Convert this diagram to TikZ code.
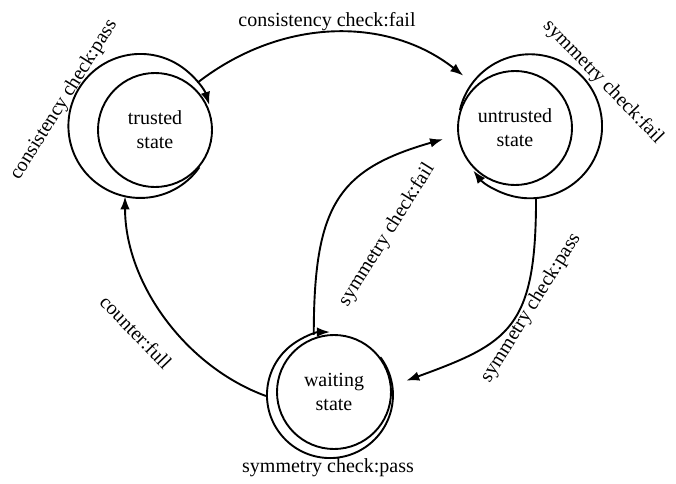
\documentclass[tikz,border=0pt]{standalone}
\usepackage{fontspec}
\setmainfont{Liberation Serif}
\usetikzlibrary{arrows.meta}
\begin{document}
\begin{tikzpicture}[x=1pt,y=1pt,
  every node/.style={font=\fontsize{20}{24}\selectfont},
  state/.style={circle, draw, line width=1.9pt, minimum size=114pt, inner sep=0pt, align=center},
  ghost/.style={circle, inner sep=0pt, outer sep=0pt},
  edge/.style={line width=1.9pt, -{Latex[length=13pt,width=9.5pt]}},
  lbl/.style={inner sep=1pt}]
\useasboundingbox (0,0) rectangle (676,483);
\node[state] (tr) at (155,353) {trusted\\state};
\node[state] (un) at (515,355) {untrusted\\state};
\node[state] (wa) at (334,91) {waiting\\state};
\node[ghost, minimum size=144pt] (trO) at (140,357) {};
\node[ghost, minimum size=144pt] (unO) at (531,356) {};
\node[ghost, minimum size=126pt] (waO) at (329,87) {};
% self loops
\draw[edge] (tr.-40) arc[start angle=-35, end angle=-343, radius=72];
\draw[edge] (un.162) arc[start angle=167, end angle=-142, radius=72];
\draw[edge] (wa.37) arc[start angle=37, end angle=-270, radius=63];
% transitions
\draw[edge, shorten >=13pt] (trO.37) to[bend left=38] (unO.143);
\draw[edge, shorten >=16pt] (unO.-86) to[out=-90, in=20, out looseness=1.4, in looseness=1.36] (waO.9);
\draw[edge, shorten >=17pt] (waO.104) to[out=90, in=196, out looseness=1.34, in looseness=1.3] (unO.186);
\draw[edge] (waO.180) to[out=160, in=-90, looseness=0.9] (trO.-102);
% labels
\node[lbl, rotate=58] (l1) at (64,383) {consistency check:pass};
\node[lbl] (l2) at (327,461) {consistency check:fail};
\node[lbl, rotate=-46] (l3) at (603,401) {symmetry check:fail};
\node[lbl, rotate=58] (l4) at (387,248) {symmetry check:fail};
\node[lbl, rotate=58] (l5) at (531,175) {symmetry check:pass};
\node[lbl, rotate=-46] (l6) at (136,151) {counter:full};
\node[lbl] (l7) at (328,15) {symmetry check:pass};
\end{tikzpicture}
\end{document}
